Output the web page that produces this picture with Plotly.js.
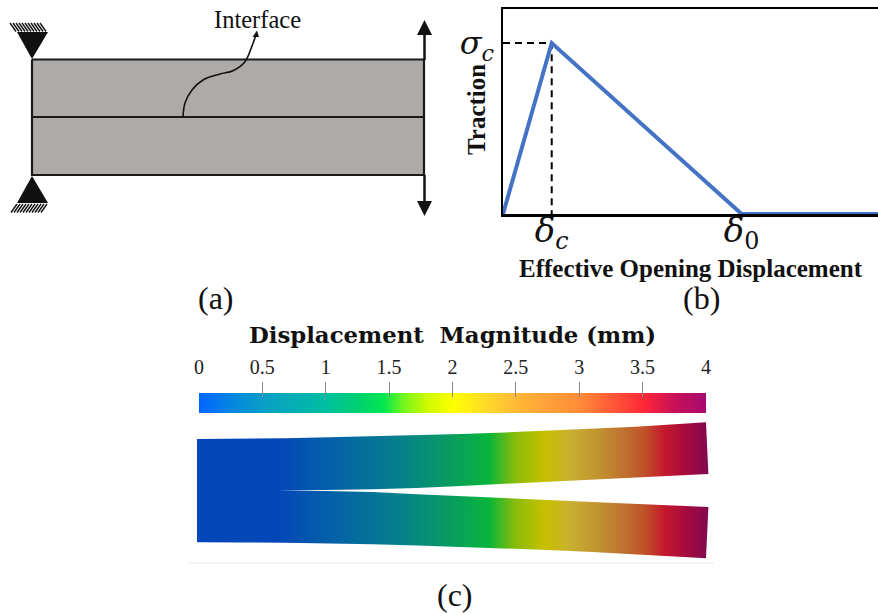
<!DOCTYPE html>
<html>
<head>
<meta charset="utf-8">
<script src="https://cdn.plot.ly/plotly-3.0.1.min.js"></script>
<style>html,body{margin:0;padding:0;background:#fff}#chart{width:878px;height:613px}</style>
</head>
<body>
<div id="chart"></div>
<script>
// Panel (b): traction-separation law
const openingDisp = [0, 1, 4.9, 7.7];
const traction = [0, 1, 0, 0];
const tickDisp = [1, 4.9];
const tickDispLabels = ['<i>δ</i><sub><i>c</i></sub>', '<i>δ</i><sub>0</sub>'];
const tickTraction = [1];
const tickTractionLabels = ['<i>σ</i><sub><i>c</i></sub>'];

// Panel (c): colour bar
const magnitudeLevels = [0, 0.25, 0.5, 0.75, 1, 1.25, 1.45, 1.6, 1.8, 2, 2.25, 2.5, 2.75, 3, 3.3, 3.5, 3.75, 4];
const magnitudeColors = ['#0066ff', '#0586e0', '#0a9ec8', '#05aeb4', '#00bfa0', '#00d070', '#00e650', '#70f520', '#d0fa00', '#ffff00', '#ffdc28', '#ffb838', '#ffa038', '#ff8c38', '#ff5038', '#ff2838', '#c81058', '#a80a70'];
const magnitudeTicks = [0, 0.5, 1, 1.5, 2, 2.5, 3, 3.5, 4];
const magnitudeTickLabels = ['0', '0.5', '1', '1.5', '2', '2.5', '3', '3.5', '4'];

// Panel (c): deformed specimen outline and its colouring along the length
const beamX = [197, 241, 285, 329, 373, 417, 461, 505, 548, 592, 636, 671, 706, 708.4,
  636, 592, 548, 505, 461, 417, 373, 325, 277, 325, 373, 417, 461, 505, 548, 592, 636, 708.4,
  706, 671, 636, 592, 548, 505, 461, 417, 373, 329, 285, 241, 197, 197];
const beamY = [439, 438.9, 438.2, 437.3, 436.3, 435.2, 434, 432.4, 430.7, 428.8, 426.7, 424.6, 422.3, 474,
  477.7, 479.7, 481.7, 483.9, 486, 487.9, 489.3, 490, 490.4, 490.9, 492, 494.2, 496.4, 498.3, 500, 501.9, 503.7, 507,
  558.3, 556.2, 554, 552, 550, 548.3, 546.7, 545.4, 544.3, 543.4, 542.7, 542.4, 542.3, 439];
const beamStops = [197, 278, 330, 400, 450, 489, 515, 545, 570, 600, 625, 645, 664, 685, 708.4];
const beamColors = ['#0347b8', '#0447b8', '#0460a8', '#06808c', '#089c60', '#08b53a', '#88bc08', '#c8c000', '#c8b030', '#c09030', '#c07030', '#c05028', '#c41a2e', '#a80a3c', '#800a50'];

// Panel (a): schematic
const plateX = [32, 424, 424, 32, 32];
const plateY = [59.5, 59.5, 175, 175, 59.5];
const interfaceLineX = [32, 424];
const interfaceLineY = [117, 117];
const calloutX = [183, 185, 192, 203, 220, 233, 245, 251.7, 256];
const calloutY = [117, 103, 90, 80, 74, 70.7, 61.7, 46.7, 35];
const calloutHeadX = [252.5, 259, 257, 252.5];
const calloutHeadY = [37, 37, 30.5, 37];
const topSupportX = [17, 48, 32, 17];
const topSupportY = [32, 32, 59, 32];
const bottomSupportX = [32, 48, 17, 32];
const bottomSupportY = [176, 203, 203, 176];
const topHatch = [10, 13, 16, 19, 22, 25, 28, 31, 34, 37, 40];
const bottomHatch = [11, 14, 17, 20, 23, 26, 29, 32, 35, 38, 41];
const upArrowX = [417, 432, 424.5, 417];
const upArrowY = [35, 35, 20, 35];
const downArrowX = [417, 432, 424.5, 417];
const downArrowY = [201, 201, 216, 201];
const upStemX = [424.5, 424.5];
const upStemY = [60, 34];
const downStemX = [424.5, 424.5];
const downStemY = [175, 202];

const serif = '"Liberation Serif", serif';
const black = '#111111';

function line(x, y, width, color, extra) {
  return Object.assign({type: 'scatter', mode: 'lines', x: x, y: y, xaxis: 'x', yaxis: 'y',
    line: {width: width, color: color}, hoverinfo: 'skip', showlegend: false}, extra || {});
}
function solid(x, y, color) {
  return {type: 'scatter', mode: 'lines', x: x, y: y, xaxis: 'x', yaxis: 'y', fill: 'toself', fillcolor: color,
    line: {width: 0, color: color}, hoverinfo: 'skip', showlegend: false};
}
function hatch(starts, y0, y1, dx) {
  const xs = [], ys = [];
  starts.forEach(function (s) { xs.push(s, s + dx, null); ys.push(y0, y1, null); });
  return line(xs, ys, 1.4, black);
}

const beamSpan = beamStops[beamStops.length - 1] - beamStops[0];

const traces = [
  solid(plateX, plateY, '#aeaaa8'),
  line(plateX, plateY, 2.2, '#1a1a1a'),
  line(interfaceLineX, interfaceLineY, 2.2, '#1a1a1a'),
  line(calloutX, calloutY, 1.6, black, {line: {width: 1.6, color: black, shape: 'spline', smoothing: 1}}),
  solid(calloutHeadX, calloutHeadY, black),
  solid(topSupportX, topSupportY, black),
  solid(bottomSupportX, bottomSupportY, black),
  hatch(topHatch, 23, 31.5, 6),
  hatch(bottomHatch, 212.5, 204, 6),
  line(upStemX, upStemY, 2.5, black),
  line(downStemX, downStemY, 2.5, black),
  solid(upArrowX, upArrowY, black),
  solid(downArrowX, downArrowY, black),
  {
    type: 'scatter', mode: 'lines', x: beamX, y: beamY, xaxis: 'x', yaxis: 'y',
    fill: 'toself', hoverinfo: 'skip', showlegend: false, line: {width: 0},
    fillgradient: {
      type: 'horizontal', start: beamStops[0], stop: beamStops[beamStops.length - 1],
      colorscale: beamStops.map(function (s, i) { return [(s - beamStops[0]) / beamSpan, beamColors[i]]; })
    }
  },
  line([188, 714], [563, 563], 1, '#e8e8e8'),
  // Panel (b)
  {type: 'scatter', mode: 'lines', x: [0, 1, 1], y: [1, 1, 0], xaxis: 'x2', yaxis: 'y2',
    line: {width: 2, color: '#000000', dash: '7px,5px'}, hoverinfo: 'skip', showlegend: false},
  {type: 'scatter', mode: 'lines', x: openingDisp, y: traction, xaxis: 'x2', yaxis: 'y2', cliponaxis: false,
    line: {width: 4, color: '#4472c4'}, hoverinfo: 'skip', showlegend: false},
  // Colour bar
  {type: 'heatmap', x: magnitudeLevels, y: [0, 10, 20], z: [magnitudeLevels, magnitudeLevels],
    xaxis: 'x3', yaxis: 'y3', zmin: 0, zmax: 4, zsmooth: 'best', showscale: false, hoverinfo: 'skip',
    colorscale: magnitudeLevels.map(function (m, i) { return [m / 4, magnitudeColors[i]]; })}
];

const layout = {
  width: 878, height: 613, margin: {l: 0, r: 0, t: 0, b: 0},
  paper_bgcolor: '#ffffff', plot_bgcolor: 'rgba(0,0,0,0)', showlegend: false,
  font: {family: serif, color: '#111111'},
  xaxis: {domain: [0, 1], range: [0, 878], visible: false, fixedrange: true},
  yaxis: {domain: [0, 1], range: [613, 0], visible: false, fixedrange: true},
  xaxis2: {
    domain: [503 / 878, 1], range: [0, 7.7], anchor: 'y2', showgrid: false, zeroline: false,
    showline: true, linewidth: 2.5, linecolor: '#000000', mirror: true, ticks: '',
    tickmode: 'array', tickvals: tickDisp, ticktext: tickDispLabels, ticklabelstandoff: -15,
    tickfont: {size: 34, family: '"DejaVu Serif", serif', color: '#111111'},
    title: {text: '<b>Effective Opening Displacement</b>', standoff: 0, font: {size: 25, family: serif, color: '#111111'}}
  },
  yaxis2: {
    domain: [1 - 214 / 613, 1 - 9 / 613], range: [0, 1.199], anchor: 'x2', showgrid: false, zeroline: false,
    showline: true, linewidth: 2.5, linecolor: '#000000', ticks: '',
    tickmode: 'array', tickvals: tickTraction, ticktext: tickTractionLabels,
    tickfont: {size: 32, family: '"DejaVu Serif", serif', color: '#111111'}
  },
  xaxis3: {
    domain: [199 / 878, 706 / 878], range: [0, 4], anchor: 'y3', side: 'top', showgrid: false, zeroline: false,
    showline: false, ticks: 'inside', ticklen: 15, tickwidth: 1, tickcolor: '#888888',
    tickmode: 'array', tickvals: magnitudeTicks, ticktext: magnitudeTickLabels, ticklabelstandoff: 3,
    tickfont: {size: 20, family: serif, color: '#222222'}
  },
  yaxis3: {
    domain: [1 - 413 / 613, 1 - 382 / 613], range: [20, -11], anchor: 'x3', visible: false
  },
  annotations: [
    {x: 257, y: 19, text: 'Interface', font: {size: 24.5}},
    {x: 216, y: 298, text: '(a)', font: {size: 32}},
    {x: 701, y: 298, text: '(b)', font: {size: 32}},
    {x: 455, y: 595, text: '(c)', font: {size: 32}},
    {x: 476, y: 110, text: '<b>Traction</b>', textangle: -90, font: {size: 25, family: serif, color: '#111111'}},
    {x: 452, y: 335, text: '<b>Displacement\u00A0\u00A0Magnitude (mm)</b>', font: {size: 22.8, family: '"DejaVu Serif", serif', color: '#111111'}}
  ].map(function (a) {
    return Object.assign({xref: 'x', yref: 'y', showarrow: false, xanchor: 'center', yanchor: 'middle'}, a);
  })
};

Plotly.newPlot('chart', traces, layout, {displayModeBar: false, staticPlot: true});
</script>
</body>
</html>
